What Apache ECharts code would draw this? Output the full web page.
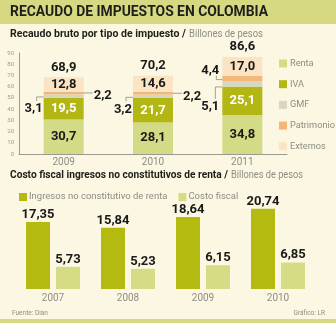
<!DOCTYPE html>
<html><head><meta charset="utf-8">
<script src="https://cdn.jsdelivr.net/npm/echarts@6/dist/echarts.min.js"></script>
<style>html,body{margin:0;padding:0;background:#fbf7e2;}#c{width:336px;height:323px;}</style>
</head><body><div id="c"></div>
<script>
// ---- data ----
const years1 = ['2009', '2010', '2011'];
const renta = [30.7, 28.1, 34.8];
const iva = [19.5, 21.7, 25.1];
const gmf = [3.1, 3.2, 5.1];
const patrimonio = [2.2, 2.2, 4.4];
const externos = [12.8, 14.6, 17.0];
const totals = [68.9, 70.2, 86.6];
const yTicks1 = [0, 10, 20, 30, 40, 50, 60, 70, 80, 90];

const years2 = ['2007', '2008', '2009', '2010'];
const ingresos = [17.35, 15.84, 18.64, 20.74];
const costo = [5.73, 5.23, 6.15, 6.85];

// ---- styles ----
const C = {
  bg: '#fbf7e2', band: '#d7d982', renta: '#d4db86', iva: '#b3b713', gmf: '#d7d6c0',
  patr: '#f3b77a', ext: '#fae4c3', dark: '#b4ba10', light: '#d6dc86', gray: '#8d8d84'
};
const F = 'Roboto, sans-serif';
const fmt = (v, d) => v.toFixed(d).replace('.', ',');
const valLbl = (color) => ({ show: true, position: 'inside', color: color, fontFamily: F, fontWeight: 'bold', fontSize: 13 });

const mctx = document.createElement('canvas').getContext('2d');
function fitText(text, font, x, y, w, fill) {
  mctx.font = font;
  const s = w / mctx.measureText(text).width;
  return { type: 'text', x: x, y: y, scaleX: s, style: { text: text, font: font, fill: fill, verticalAlign: 'middle' } };
}

const chart = echarts.init(document.getElementById('c'), null, { renderer: 'canvas' });

// annotation layout per year: which side the GMF / Patrimonio labels go
const annotLayout = [
  { gmf: 'leftDown', patr: 'right' },
  { gmf: 'leftDown', patr: 'right' },
  { gmf: 'leftDownFar', patr: 'leftUp' }
];
const annotData = [];
years1.forEach((y, i) => {
  const base = renta[i] + iva[i];
  annotData.push([i, base + gmf[i] / 2, gmf[i], annotLayout[i].gmf]);
  annotData.push([i, base + gmf[i] + patrimonio[i] / 2, patrimonio[i], annotLayout[i].patr]);
});
const stackTop = years1.map((y, i) => [i, renta[i] + iva[i] + gmf[i] + patrimonio[i] + externos[i], totals[i]]);

const HALF = 20;
const lineStyle = { stroke: '#8a8a80', lineWidth: 0.8, fill: null };
const txtStyle = (t, x, y, align) => ({ text: t, x: x, y: y, align: align, verticalAlign: 'middle', fill: '#1a1a1a', font: 'bold 13px ' + F });

function renderAnnot(params, api) {
  const i = api.value(0), yv = api.value(1), v = api.value(2), kind = annotData[params.dataIndex][3];
  const p = api.coord([i, yv]);
  const t = fmt(v, 1);
  let pts, tx;
  if (kind === 'right') {
    const x0 = p[0] + HALF;
    pts = [[x0, p[1]], [x0 + 9, p[1]]];
    tx = txtStyle(t, x0 + 10, p[1] + 3, 'left');
  } else if (kind === 'leftDown') {
    const x0 = p[0] - HALF;
    pts = [[x0, p[1] + 1], [x0 - 7, p[1] + 1], [x0 - 7, p[1] + 5]];
    tx = txtStyle(t, x0 - 1, p[1] + 13, 'right');
  } else if (kind === 'leftUp') {
    const x0 = p[0] - HALF;
    pts = [[x0, p[1] + 1], [x0 - 6, p[1] + 1], [x0 - 6, p[1] - 3]];
    tx = txtStyle(t, x0 - 3, p[1] - 8, 'right');
  } else {
    const x0 = p[0] - HALF;
    pts = [[x0, p[1] + 3], [x0 - 7, p[1] + 3], [x0 - 7, p[1] + 15]];
    tx = txtStyle(t, x0 - 3, p[1] + 23, 'right');
  }
  return { type: 'group', children: [
    { type: 'polyline', shape: { points: pts }, style: lineStyle },
    { type: 'text', style: tx }
  ]};
}
function renderTotal(params, api) {
  const p = api.coord([api.value(0), api.value(1)]);
  return { type: 'text', style: txtStyle(fmt(api.value(2), 1), p[0], p[1] - 10, 'center') };
}

const topBar = (name, data, color, label) => ({
  name: name, type: 'bar', stack: 'a', xAxisIndex: 0, yAxisIndex: 0, barWidth: 40,
  data: data, itemStyle: { color: color }, label: label || { show: false }, silent: true
});

const FB = 'bold 11px Roboto', FG = '11px Roboto';

chart.setOption({
  backgroundColor: C.bg,
  animation: false,
  graphic: [
    { type: 'rect', shape: { x: 0, y: 0, width: 336, height: 24 }, style: { fill: C.band } },
    { type: 'rect', shape: { x: 0, y: 319, width: 336, height: 4 }, style: { fill: C.band } },
    fitText('RECAUDO DE IMPUESTOS EN COLOMBIA', 'bold 15px Roboto', 10, 12, 258, '#1f1f1a'),
    fitText('Recaudo bruto por tipo de impuesto /', FB, 10, 34, 176, '#1f1f1a'),
    fitText('Billones de pesos', FG, 189, 34, 74, C.gray),
    fitText('Costo fiscal ingresos no constitutivos de renta /', FB, 10, 175, 218, '#1f1f1a'),
    fitText('Billones de pesos', FG, 231, 175, 72, C.gray),
    { type: 'text', x: 12, y: 313, style: { text: 'Fuente: Dian', verticalAlign: 'middle', fill: C.gray, font: '6.5px ' + F } },
    { type: 'text', x: 325, y: 313, style: { text: 'Gráfico: LR', align: 'right', verticalAlign: 'middle', fill: C.gray, font: '6.5px ' + F } }
  ],
  legend: [
    { data: ['Renta', 'IVA', 'GMF', 'Patrimonio', 'Externos'], orient: 'vertical', left: 274, top: 52,
      itemWidth: 8, itemHeight: 8, itemGap: 7.7, icon: 'rect', selectedMode: false,
      textStyle: { color: C.gray, fontFamily: F, fontSize: 9.2, padding: [0, 0, 0, -2], lineHeight: 13 } },
    { data: ['Ingresos no constitutivo de renta', 'Costo fiscal'], orient: 'horizontal', left: 14, top: 187,
      itemWidth: 8, itemHeight: 8, itemGap: 11, icon: 'rect', selectedMode: false,
      textStyle: { color: C.gray, fontFamily: F, fontSize: 9.5, padding: [0, 0, 0, -3] } }
  ],
  grid: [
    { left: 19, top: 53, width: 268, height: 101 },
    { left: 15.5, top: 204, width: 300, bottom: 34 }
  ],
  xAxis: [
    { type: 'category', gridIndex: 0, data: years1, axisTick: { show: false },
      axisLine: { show: true, lineStyle: { color: '#9a9a90', width: 1 } },
      axisLabel: { color: C.gray, fontFamily: F, fontSize: 10, margin: 3 } },
    { type: 'category', gridIndex: 1, data: years2, axisLine: { show: false }, axisTick: { show: false },
      axisLabel: { color: C.gray, fontFamily: F, fontSize: 10, margin: 4 } }
  ],
  yAxis: [
    { type: 'value', gridIndex: 0, min: 0, max: 90, interval: 10, splitLine: { show: false }, axisTick: { show: false },
      axisLine: { show: true, lineStyle: { color: '#9a9a90', width: 1 } },
      axisLabel: { color: '#9a9a90', fontFamily: F, fontSize: 6, margin: 5, formatter: (v) => yTicks1.includes(v) ? String(v) : '' } },
    { type: 'value', gridIndex: 1, min: 0, max: 22, show: false }
  ],
  series: [
    topBar('Renta', renta, C.renta, Object.assign(valLbl('#1a1a1a'), { formatter: (p) => fmt(p.value, 1) })),
    topBar('IVA', iva, C.iva, Object.assign(valLbl('#ffffff'), { formatter: (p) => fmt(p.value, 1) })),
    topBar('GMF', gmf, C.gmf),
    topBar('Patrimonio', patrimonio, C.patr),
    topBar('Externos', externos, C.ext, Object.assign(valLbl('#1a1a1a'), { formatter: (p) => fmt(p.value, 1) })),
    { type: 'custom', xAxisIndex: 0, yAxisIndex: 0, data: annotData.map(d => [d[0], d[1], d[2]]), renderItem: renderAnnot, silent: true, z: 5 },
    { type: 'custom', xAxisIndex: 0, yAxisIndex: 0, data: stackTop, renderItem: renderTotal, silent: true, z: 5 },
    { name: 'Ingresos no constitutivo de renta', type: 'bar', xAxisIndex: 1, yAxisIndex: 1, data: ingresos, barWidth: 24, barGap: '25%',
      itemStyle: { color: C.dark }, label: Object.assign(valLbl('#1a1a1a'), { position: 'top', distance: 1, formatter: (p) => fmt(p.value, 2) }) },
    { name: 'Costo fiscal', type: 'bar', xAxisIndex: 1, yAxisIndex: 1, data: costo, barWidth: 24, barGap: '25%',
      itemStyle: { color: C.light }, label: Object.assign(valLbl('#1a1a1a'), { position: 'top', distance: 1, formatter: (p) => fmt(p.value, 2) }) }
  ]
});
</script>
</body></html>
